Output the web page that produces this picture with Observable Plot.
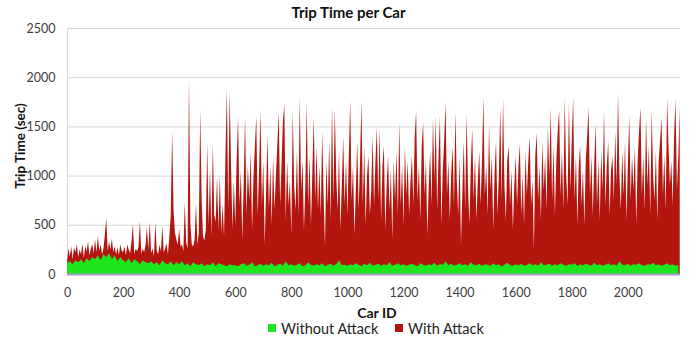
<!DOCTYPE html>
<html>
<head>
<meta charset="utf-8">
<script src="https://cdn.jsdelivr.net/npm/d3@7"></script>
<script src="https://cdn.jsdelivr.net/npm/@observablehq/plot@0.6"></script>
<style>
  body { margin: 0; background: #fff; font-family: Lato, "Open Sans", sans-serif; }
  #wrap { position: relative; width: 697px; height: 337px; overflow: hidden; background: #fff; }
  #title { position: absolute; left: 0; top: 3px; width: 697px; text-align: center; font-weight: bold; font-size: 15px; line-height: 18px; color: #111; }
  #chart { position: absolute; left: 0; top: 22px; }
  #ylabel { position: absolute; left: 20px; top: 146px; transform: translate(-50%, -50%) rotate(-90deg); font-weight: bold; font-size: 13.5px; white-space: nowrap; color: #111; }
  #xlabel { position: absolute; left: 377px; top: 312px; transform: translate(-50%, -50%); font-weight: bold; font-size: 14px; white-space: nowrap; color: #111; }
  .leg { position: absolute; top: 320px; height: 16px; display: flex; align-items: center; font-size: 14.5px; color: #222; white-space: nowrap; }
  .sw { width: 8px; height: 8px; margin-right: 5px; }
</style>
</head>
<body>
<div id="wrap">
  <div id="title">Trip Time per Car</div>
  <div id="chart"></div>
  <div id="ylabel">Trip Time (sec)</div>
  <div id="xlabel">Car ID</div>
  <div class="leg" style="left:268px"><div class="sw" style="background:#1ee61e"></div>Without Attack</div>
  <div class="leg" style="left:395px"><div class="sw" style="background:#b3150f"></div>With Attack</div>
</div>
<script>
// Series names and colours
const seriesNames = ["Without Attack", "With Attack"];
const seriesColors = ["#1ee61e", "#b3150f"];

// Tick labels
const yTicks = [0, 500, 1000, 1500, 2000, 2500];
const xTicks = [0, 200, 400, 600, 800, 1000, 1200, 1400, 1600, 1800, 2000];

// Car ID sampling steps (every 5th car for "With Attack", every 10th for "Without Attack")
const attackStep = 5;
const normalStep = 10;

// Trip time (sec) with attack, car 0 .. 2185, step 5
const withAttack = [
  120, 260, 180, 280, 150, 270, 220, 300, 170, 250,
  200, 310, 160, 280, 230, 330, 190, 260, 300, 210,
  350, 220, 380, 240, 300, 200, 260, 400, 570, 230,
  330, 250, 360, 220, 280, 200, 270, 190, 300, 240,
  220, 280, 190, 300, 250, 210, 330, 510, 200, 260,
  230, 280, 540, 200, 260, 220, 290, 480, 250, 530,
  210, 260, 180, 520, 240, 200, 300, 230, 490, 220,
  260, 310, 200, 380, 600, 1460, 640, 420, 350, 300,
  460, 280, 300, 230, 730, 320, 260, 1980, 510, 300,
  280, 350, 714, 300, 420, 1667, 780, 380, 340, 450,
  1327, 500, 1070, 380, 1327, 600, 530, 986, 450, 1000,
  420, 700, 380, 1200, 1880, 650, 1850, 1100, 450, 950,
  500, 1150, 1600, 700, 1050, 350, 900, 1600, 600, 1100,
  750, 1250, 450, 980, 1300, 1600, 600, 1050, 1670, 700,
  1150, 300, 850, 1400, 650, 1100, 500, 1200, 650, 1000,
  1300, 1650, 700, 1100, 1560, 1720, 550, 1150, 700, 950,
  400, 1660, 900, 650, 1250, 600, 1800, 850, 1150, 450,
  900, 1740, 700, 1200, 500, 1050, 1590, 750, 1300, 650,
  1100, 600, 1450, 800, 280, 1150, 700, 1350, 550, 1720,
  750, 1680, 1000, 650, 1250, 450, 900, 1400, 700, 1150,
  600, 1200, 1760, 750, 1100, 400, 850, 1350, 650, 1150,
  1760, 700, 1300, 500, 1000, 1200, 600, 850, 1400, 700,
  1150, 1490, 750, 1490, 550, 1100, 1300, 450, 900, 1200,
  650, 1050, 350, 1150, 750, 1250, 600, 1540, 700, 1100,
  500, 1300, 800, 1150, 600, 950, 1200, 700, 1400, 1660,
  750, 1100, 550, 1300, 1540, 800, 1150, 400, 900, 1250,
  700, 1580, 950, 1600, 650, 1200, 1600, 500, 1050, 1350,
  1745, 800, 1150, 550, 1000, 1300, 700, 1640, 950, 600,
  1200, 300, 850, 1350, 650, 1630, 900, 500, 1100, 1480,
  750, 1200, 550, 950, 1250, 700, 1150, 1800, 800, 1100,
  600, 1500, 850, 1200, 450, 1050, 1350, 600, 1000, 1700,
  750, 1785, 900, 550, 1150, 1300, 700, 1050, 450, 900,
  1200, 700, 1100, 1320, 600, 1000, 500, 1250, 800, 1150,
  1400, 700, 950, 250, 1200, 1435, 750, 1100, 550, 1350,
  850, 1200, 650, 1500, 1000, 1694, 750, 1300, 600, 1150,
  1450, 1665, 800, 1250, 650, 1790, 1000, 700, 1740, 850,
  1350, 1790, 750, 1200, 500, 1100, 1300, 700, 1050, 500,
  1150, 1400, 1690, 800, 1200, 600, 1100, 1530, 700, 1150,
  550, 1250, 850, 1665, 700, 1100, 1350, 600, 1050, 1200,
  750, 1450, 900, 1840, 1000, 650, 1250, 800, 1350, 550,
  1100, 1605, 750, 1200, 850, 1300, 500, 1150, 1450, 1690,
  800, 1200, 650, 1590, 900, 1300, 600, 1665, 1000, 750,
  1250, 550, 1150, 1350, 1590, 800, 1200, 650, 1785, 1300,
  900, 1150, 700, 1400, 1775, 850, 1200, 1690
];

// Trip time (sec) without attack, car 0 .. 2180, step 10
const withoutAttack = [
  110, 130, 100, 140, 120, 150, 110, 160, 130, 170,
  150, 190, 140, 200, 170, 210, 150, 190, 130, 170,
  140, 120, 160, 110, 150, 130, 100, 140, 120, 110,
  130, 100, 120, 90, 140, 110, 100, 130, 90, 120,
  100, 130, 90, 110, 80, 120, 100, 90, 110, 80,
  100, 90, 120, 80, 110, 100, 90, 80, 100, 90,
  90, 80, 100, 110, 85, 95, 120, 80, 90, 105,
  85, 100, 90, 115, 80, 95, 105, 85, 130, 90,
  100, 85, 95, 110, 80, 90, 120, 95, 85, 100,
  90, 110, 80, 95, 105, 85, 100, 140, 90, 95,
  85, 100, 90, 110, 95, 80, 105, 90, 115, 85,
  95, 105, 85, 100, 90, 120, 85, 95, 110, 90,
  100, 85, 95, 105, 90, 80, 110, 95, 85, 100,
  90, 115, 85, 100, 95, 130, 90, 105, 85, 95,
  110, 90, 100, 85, 120, 95, 90, 105, 85, 100,
  95, 85, 110, 90, 100, 80, 95, 115, 90, 85,
  100, 90, 105, 85, 95, 110, 90, 100, 85, 120,
  90, 95, 105, 85, 100, 90, 110, 95, 85, 100,
  95, 110, 85, 100, 90, 105, 95, 85, 115, 90,
  100, 85, 95, 110, 90, 100, 85, 130, 95, 90,
  105, 85, 100, 95, 110, 90, 85, 100, 95, 115,
  90, 100, 85, 95, 110, 90, 100, 85, 95
];

const attackData = withAttack.map((v, i) => ({ id: i * attackStep, v }));
const normalData = withoutAttack.map((v, i) => ({ id: i * normalStep, v }));

const chart = Plot.plot({
  width: 697,
  height: 296,
  marginTop: 6,
  marginBottom: 44,
  marginLeft: 67,
  marginRight: 17,
  style: { fontFamily: "Lato, 'Open Sans', sans-serif", fontSize: "12.5px", color: "#404040", background: "transparent" },
  x: { domain: [0, 2186] },
  y: { domain: [0, 2500] },
  marks: [
    Plot.gridY(yTicks, { stroke: "#d9d9d9", strokeOpacity: 1 }),
    Plot.ruleX([0], { stroke: "#d9d9d9" }),
    Plot.areaY(attackData, { x: "id", y: "v", fill: seriesColors[1] }),
    Plot.areaY(normalData, { x: "id", y: "v", fill: seriesColors[0] }),
    Plot.ruleY([0], { stroke: "#a49cc0", strokeWidth: 2 }),
    Plot.axisY(yTicks, { tickSize: 0, tickPadding: 12, label: null, tickFormat: d => String(d) }),
    Plot.axisX(xTicks, { tickSize: 0, tickPadding: 14, label: null, tickFormat: d => String(d) })
  ]
});
document.getElementById("chart").appendChild(chart);
</script>
</body>
</html>
